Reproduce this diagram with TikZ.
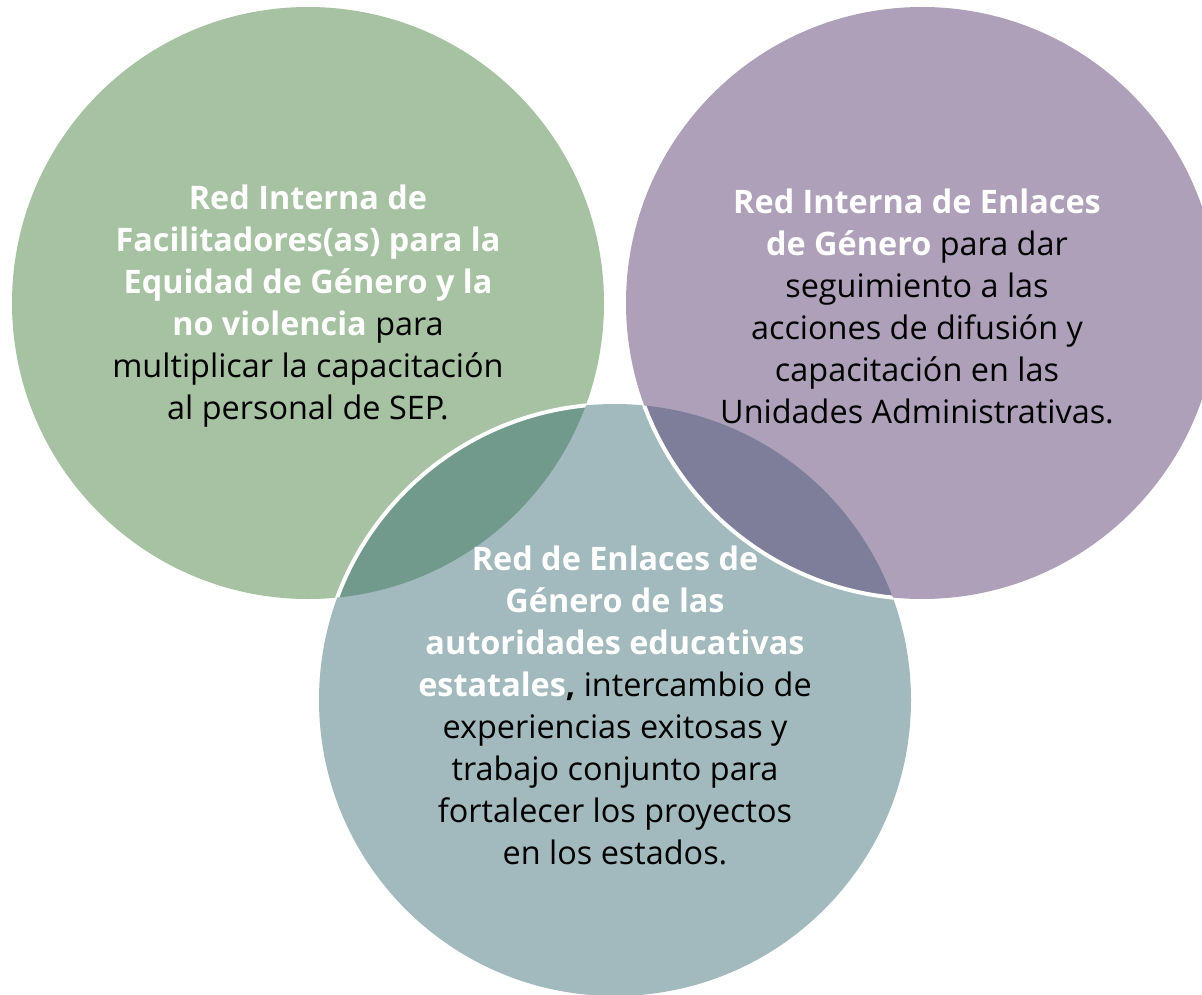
\documentclass[tikz,border=0pt]{standalone}
\usepackage{fontspec}
\setmainfont{Open Sans}
\usepackage{tikz}
\usetikzlibrary{calc}
\usetikzlibrary{shapes}

\definecolor{facgreen}{HTML}{A6C2A2}
\definecolor{enlpurple}{HTML}{AFA0BA}
\definecolor{estblue}{HTML}{A2B9BE}
\definecolor{lensgreen}{HTML}{729A8C}
\definecolor{lenspurple}{HTML}{7F7E9A}

\begin{document}
\begin{tikzpicture}[x = 1pt, y = 1pt]
	\tikzset{bubble/.style = {circle, minimum size = 592pt, inner sep = 0pt}}
	\tikzset{label/.style = {align = center, font = \fontsize{32.4}{42}\selectfont}}
	\tikzset{rim/.style = {draw = white, line width = 4pt}}

\useasboundingbox (0,0) rectangle (1202,-995);

%% Circles
\draw (308,-303) node[bubble, name = fac, fill = facgreen]{};
\draw (922,-303) node[bubble, name = enl, fill = enlpurple]{};
\draw (615,-700) node[bubble, name = est, fill = estblue]{};

%% Overlaps
\begin{scope}
	\clip (fac.center) circle (296);
	\fill[lensgreen] (est.center) circle (296);
	\draw[rim] (est.center) circle (296);
\end{scope}
\begin{scope}
	\clip (enl.center) circle (296);
	\fill[lenspurple] (est.center) circle (296);
\end{scope}
\begin{scope}
	\clip (est.center) circle (296);
	\draw[rim] (enl.center) circle (296);
\end{scope}

%% Texts
\draw (fac.center) ++(0,-3) node[label, name = factext]{%
	\textcolor{white}{\bfseries Red Interna de}\\
	\textcolor{white}{\bfseries Facilitadores(as) para la}\\
	\textcolor{white}{\bfseries Equidad de Género y la}\\
	\textcolor{white}{\bfseries no violencia} para\\
	multiplicar la capacitación\\
	al personal de SEP.};

\draw (enl.center) ++(-5,-3) node[label, name = enltext]{%
	\textcolor{white}{\bfseries Red Interna de Enlaces}\\
	\textcolor{white}{\bfseries de Género} para dar\\
	seguimiento a las\\
	acciones de difusión y\\
	capacitación en las\\
	Unidades Administrativas.};

\draw (est.center) ++(0,-5) node[label, name = esttext]{%
	\textcolor{white}{\bfseries Red de Enlaces de}\\
	\textcolor{white}{\bfseries Género de las}\\
	\textcolor{white}{\bfseries autoridades educativas}\\
	\textcolor{white}{\bfseries estatales}\textbf{,} intercambio de\\
	experiencias exitosas y\\
	trabajo conjunto para\\
	fortalecer los proyectos\\
	en los estados.};
\end{tikzpicture}
\end{document}
